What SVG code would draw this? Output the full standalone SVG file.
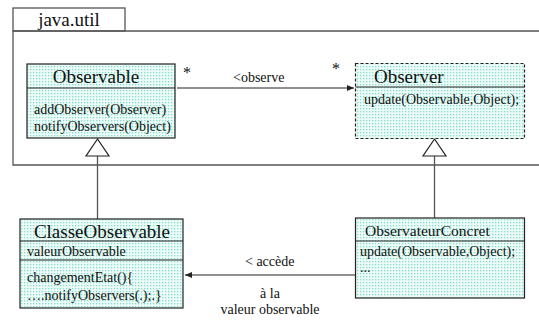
<svg xmlns="http://www.w3.org/2000/svg" width="539" height="320" viewBox="0 0 539 320" font-family="'Liberation Serif', 'DejaVu Serif', serif">
<style>
text{font-family:'Liberation Serif','DejaVu Serif',serif;fill:#111}
.t{font-size:19px}
.m{font-size:14px}
.pk{fill:none;stroke:#555;stroke-width:1.3}
.box{fill:url(#dots);stroke:#222;stroke-width:1.2}
.dash{stroke-dasharray:3,2}
.ln{stroke:#222;stroke-width:1.2;fill:none}
.gl{stroke:#555;stroke-width:1.3;fill:none}
.tri{fill:#fff;stroke:#222;stroke-width:1.2}
</style>
<defs>
<pattern id="dots" width="3" height="3" patternUnits="userSpaceOnUse">
<rect width="3" height="3" fill="#eefaf7"/>
<rect x="0" y="0" width="1.3" height="1.3" fill="#7fe0cb"/>
</pattern>
<marker id="arr" markerWidth="8" markerHeight="8" refX="7" refY="4" orient="auto" markerUnits="userSpaceOnUse">
<path d="M0,1 L7,4 L0,7 z" fill="#222"/>
</marker>
</defs>
<rect width="539" height="320" fill="#fff"/>
<g id="package">
<rect class="pk" x="13" y="8" width="112" height="23"/>
<path class="pk" d="M545,31 H13 V165 H545"/>
<text x="69" y="26" text-anchor="middle" font-size="19">java.util</text>
</g>
<g id="connectors">
<line class="ln" x1="177" y1="88" x2="354" y2="88" marker-end="url(#arr)"/>
<text class="m" x="233" y="82">&lt;observe</text>
<text x="183" y="78" font-size="16">*</text>
<text x="332" y="74" font-size="16">*</text>
<line class="gl" x1="97.5" y1="156" x2="97.5" y2="219"/>
<polygon class="tri" points="97.5,139 86,156 109,156"/>
<line class="gl" x1="434.5" y1="156" x2="434.5" y2="218"/>
<polygon class="tri" points="434.5,139 423,156 446,156"/>
<line class="ln" x1="355" y1="275" x2="185" y2="275" marker-end="url(#arr)"/>
<text class="m" x="245" y="266">&lt; accède</text>
<text class="m" x="270" y="298" text-anchor="middle">à la</text>
<text class="m" x="270" y="314" text-anchor="middle">valeur observable</text>
</g>
<g id="Observable">
<rect class="box" x="27" y="64" width="148" height="74"/>
<line class="ln" x1="27" y1="88" x2="175" y2="88"/>
<text class="t" x="96" y="83" text-anchor="middle">Observable</text>
<text class="m" x="34" y="114">addObserver(Observer)</text>
<text class="m" x="34" y="131">notifyObservers(Object)</text>
</g>
<g id="Observer">
<rect class="box dash" x="355.5" y="63.5" width="169" height="75"/>
<line class="ln" x1="355.5" y1="87" x2="524.5" y2="87"/>
<text class="t" x="374" y="83">Observer</text>
<text class="m" x="364" y="104">update(Observable,Object);</text>
</g>
<g id="ClasseObservable">
<rect class="box" x="20" y="219" width="163" height="89"/>
<line class="ln" x1="20" y1="241" x2="183" y2="241"/>
<line class="ln" x1="20" y1="260" x2="183" y2="260"/>
<text class="t" x="102" y="238" text-anchor="middle">ClasseObservable</text>
<text class="m" x="27" y="256">valeurObservable</text>
<text class="m" x="27" y="282">changementEtat(){</text>
<text class="m" x="27" y="300">….notifyObservers(.);.}</text>
</g>
<g id="ObservateurConcret">
<rect class="box" x="355.5" y="218" width="169" height="80"/>
<line class="ln" x1="355.5" y1="241" x2="524.5" y2="241"/>
<text x="365" y="236" font-size="15.5">ObservateurConcret</text>
<text class="m" x="360" y="256">update(Observable,Object);</text>
<text class="m" x="360" y="272">...</text>
</g>
</svg>
